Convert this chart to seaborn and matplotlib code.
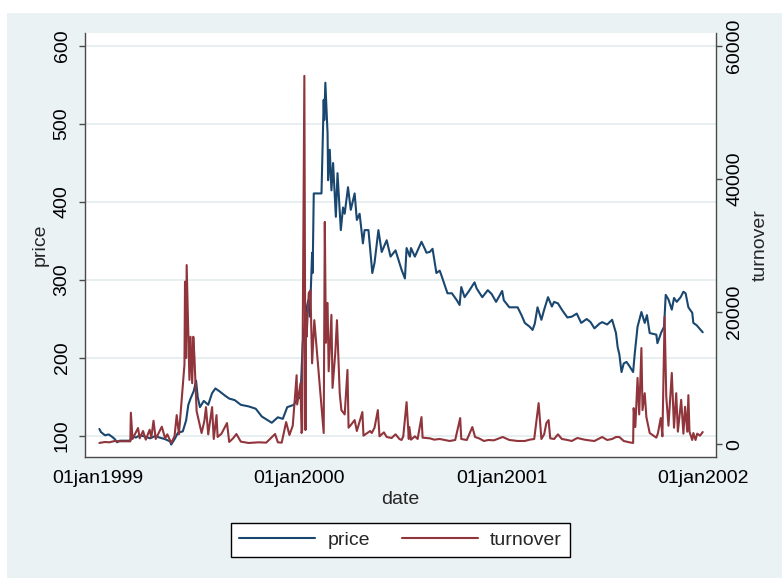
import matplotlib
matplotlib.use("Agg")
import matplotlib.pyplot as plt
from matplotlib.patches import Rectangle
import pandas as pd
import seaborn as sns

# ---- data -------------------------------------------------------------
price_dates = [
    "1999-01-04", "1999-01-07", "1999-01-14", "1999-01-21", "1999-01-27", "1999-02-01",
    "1999-02-05", "1999-02-10", "1999-02-19", "1999-03-01", "1999-03-04", "1999-03-11",
    "1999-03-18", "1999-03-29", "1999-04-06", "1999-04-15", "1999-04-23", "1999-05-03",
    "1999-05-12", "1999-05-14", "1999-05-21", "1999-05-26", "1999-06-04", "1999-06-10",
    "1999-06-14", "1999-06-18", "1999-06-24", "1999-06-28", "1999-07-01", "1999-07-05",
    "1999-07-12", "1999-07-20", "1999-07-27", "1999-08-02", "1999-08-10", "1999-08-19",
    "1999-08-27", "1999-09-06", "1999-09-17", "1999-10-01", "1999-10-14", "1999-10-25",
    "1999-11-03", "1999-11-12", "1999-11-23", "1999-12-02", "1999-12-10", "1999-12-22",
    "1999-12-27", "2000-01-03", "2000-01-07", "2000-01-13", "2000-01-17", "2000-01-20",
    "2000-01-24", "2000-01-25", "2000-01-27", "2000-02-10", "2000-02-14", "2000-02-15",
    "2000-02-17", "2000-02-21", "2000-02-22", "2000-02-25", "2000-02-28", "2000-03-02",
    "2000-03-07", "2000-03-10", "2000-03-16", "2000-03-20", "2000-03-23", "2000-03-29",
    "2000-04-03", "2000-04-10", "2000-04-14", "2000-04-19", "2000-04-25", "2000-04-28",
    "2000-05-05", "2000-05-12", "2000-05-16", "2000-05-23", "2000-05-29", "2000-06-07",
    "2000-06-14", "2000-06-23", "2000-07-04", "2000-07-10", "2000-07-13", "2000-07-19",
    "2000-07-21", "2000-07-28", "2000-08-02", "2000-08-09", "2000-08-15", "2000-08-18",
    "2000-08-24", "2000-08-29", "2000-09-05", "2000-09-11", "2000-09-15", "2000-09-25",
    "2000-10-03", "2000-10-12", "2000-10-17", "2000-10-20", "2000-10-26", "2000-11-03",
    "2000-11-13", "2000-11-17", "2000-11-27", "2000-12-07", "2000-12-14", "2000-12-22",
    "2001-01-02", "2001-01-05", "2001-01-15", "2001-01-30", "2001-02-06", "2001-02-12",
    "2001-02-21", "2001-02-26", "2001-03-02", "2001-03-07", "2001-03-14", "2001-03-19",
    "2001-03-26", "2001-04-02", "2001-04-06", "2001-04-13", "2001-04-20", "2001-04-30",
    "2001-05-08", "2001-05-17", "2001-05-25", "2001-06-04", "2001-06-11", "2001-06-18",
    "2001-06-27", "2001-07-02", "2001-07-11", "2001-07-20", "2001-07-27", "2001-07-30",
    "2001-08-02", "2001-08-06", "2001-08-10", "2001-08-15", "2001-08-20", "2001-08-27",
    "2001-08-30", "2001-09-04", "2001-09-11", "2001-09-17", "2001-09-21", "2001-09-26",
    "2001-10-08", "2001-10-10", "2001-10-17", "2001-10-22", "2001-10-25", "2001-10-30",
    "2001-11-05", "2001-11-09", "2001-11-14", "2001-11-21", "2001-11-26", "2001-11-30",
    "2001-12-05", "2001-12-12", "2001-12-14", "2001-12-20", "2001-12-31",
]
price_values = [
    109, 105, 101, 102, 99, 96,
    92, 94, 94, 94, 100, 98,
    101, 99, 97, 100, 98, 96,
    93, 89, 97, 104, 106, 120,
    140, 148, 158, 171, 150, 137,
    145, 140, 155, 161, 157, 152,
    148, 146, 140, 138, 135, 125,
    121, 117, 124, 122, 137, 140,
    146, 150, 219, 260, 274, 253,
    335, 309, 411, 411, 531, 505,
    553, 488, 428, 467, 415, 450,
    381, 437, 364, 393, 385, 419,
    390, 411, 377, 385, 347, 364,
    364, 309, 322, 364, 336, 351,
    330, 338, 313, 302, 341, 330,
    341, 330, 338, 349, 340, 335,
    336, 340, 309, 312, 304, 283,
    283, 274, 268, 291, 278, 286,
    297, 289, 278, 287, 282, 272,
    286, 274, 265, 265, 255, 245,
    240, 236, 244, 265, 249, 262,
    278, 266, 272, 270, 262, 252,
    253, 257, 245, 250, 246, 238,
    244, 246, 243, 249, 232, 214,
    205, 182, 193, 195, 190, 182,
    206, 240, 259, 245, 255, 232,
    230, 219, 233, 240, 281, 275,
    262, 277, 272, 278, 285, 283,
    265, 258, 245, 242, 233,
]

turnover_dates = [
    "1999-01-04", "1999-01-07", "1999-01-14", "1999-01-22", "1999-02-01", "1999-02-10",
    "1999-02-19", "1999-03-01", "1999-03-02", "1999-03-05", "1999-03-11", "1999-03-15",
    "1999-03-18", "1999-03-24", "1999-03-29", "1999-04-05", "1999-04-08", "1999-04-12",
    "1999-04-16", "1999-04-22", "1999-04-27", "1999-05-03", "1999-05-07", "1999-05-14",
    "1999-05-20", "1999-05-24", "1999-05-28", "1999-06-03", "1999-06-07", "1999-06-08",
    "1999-06-10", "1999-06-11", "1999-06-16", "1999-06-18", "1999-06-21", "1999-06-23",
    "1999-06-25", "1999-06-29", "1999-07-08", "1999-07-13", "1999-07-16", "1999-07-20",
    "1999-07-27", "1999-07-30", "1999-08-04", "1999-08-06", "1999-08-13", "1999-08-23",
    "1999-08-27", "1999-09-03", "1999-09-09", "1999-09-17", "1999-10-01", "1999-10-19",
    "1999-11-02", "1999-11-18", "1999-11-23", "1999-11-30", "1999-12-08", "1999-12-14",
    "1999-12-20", "1999-12-27", "1999-12-28", "2000-01-03", "2000-01-05", "2000-01-06",
    "2000-01-10", "2000-01-12", "2000-01-13", "2000-01-14", "2000-01-18", "2000-01-21",
    "2000-01-24", "2000-01-28", "2000-02-14", "2000-02-16", "2000-02-18", "2000-02-21",
    "2000-02-23", "2000-02-28", "2000-03-01", "2000-03-06", "2000-03-09", "2000-03-14",
    "2000-03-17", "2000-03-23", "2000-03-28", "2000-03-30", "2000-04-04", "2000-04-10",
    "2000-04-14", "2000-04-24", "2000-04-26", "2000-05-08", "2000-05-11", "2000-05-16",
    "2000-05-22", "2000-05-25", "2000-06-02", "2000-06-07", "2000-06-16", "2000-06-23",
    "2000-06-30", "2000-07-04", "2000-07-07", "2000-07-13", "2000-07-17", "2000-07-18",
    "2000-07-21", "2000-07-28", "2000-08-02", "2000-08-09", "2000-08-11", "2000-08-24",
    "2000-09-01", "2000-09-11", "2000-09-20", "2000-09-29", "2000-10-09", "2000-10-18",
    "2000-10-20", "2000-10-30", "2000-11-09", "2000-11-14", "2000-11-21", "2000-11-30",
    "2000-12-08", "2000-12-18", "2001-01-03", "2001-01-15", "2001-01-30", "2001-02-12",
    "2001-02-21", "2001-03-01", "2001-03-09", "2001-03-14", "2001-03-19", "2001-03-23",
    "2001-03-27", "2001-03-30", "2001-04-06", "2001-04-13", "2001-04-20", "2001-04-30",
    "2001-05-08", "2001-05-18", "2001-05-31", "2001-06-08", "2001-06-18", "2001-07-02",
    "2001-07-11", "2001-07-20", "2001-07-27", "2001-08-02", "2001-08-10", "2001-08-20",
    "2001-08-27", "2001-08-28", "2001-08-31", "2001-09-04", "2001-09-07", "2001-09-11",
    "2001-09-13", "2001-09-17", "2001-09-20", "2001-09-26", "2001-10-08", "2001-10-11",
    "2001-10-16", "2001-10-19", "2001-10-23", "2001-10-26", "2001-10-30", "2001-11-05",
    "2001-11-09", "2001-11-13", "2001-11-16", "2001-11-22", "2001-11-26", "2001-11-29",
    "2001-12-03", "2001-12-05", "2001-12-07", "2001-12-12", "2001-12-14", "2001-12-18",
    "2001-12-21", "2001-12-26", "2001-12-31",
]
turnover_values = [
    200, 250, 350, 300, 500, 450,
    450, 450, 4760, 800, 1800, 2450,
    900, 2000, 700, 2200, 1000, 3550,
    800, 1800, 2650, 900, 1500, 200,
    1200, 4400, 1500, 7700, 12000, 24500,
    13000, 27000, 9700, 16200, 9200, 16200,
    13200, 5000, 1700, 3500, 5600, 1500,
    5600, 800, 4400, 1100, 1600, 3200,
    350, 900, 1550, 400, 200, 300,
    250, 1550, 300, 250, 3350, 1400,
    2800, 10400, 6000, 9200, 1700, 2150,
    55500, 2150, 19800, 16200, 22800, 23200,
    12200, 18700, 1700, 33500, 15300, 21300,
    11000, 19500, 8500, 13800, 18700, 7700,
    5150, 4500, 11200, 2500, 3000, 3650,
    2000, 4850, 1300, 2000, 1700, 2500,
    5150, 1200, 1800, 1100, 950, 1500,
    800, 650, 1200, 6350, 800, 2600,
    700, 1200, 800, 4100, 1000, 900,
    700, 800, 650, 500, 650, 3950,
    800, 650, 2600, 1100, 900, 500,
    650, 600, 1100, 650, 500, 500,
    700, 800, 6200, 800, 1500, 3200,
    3650, 900, 800, 1500, 800, 650,
    500, 950, 700, 600, 500, 1100,
    650, 800, 1100, 1100, 500, 300,
    200, 5450, 2600, 10000, 4500, 14500,
    5150, 7700, 4100, 1700, 1000, 1700,
    3950, 1200, 19200, 7150, 2800, 10750,
    2500, 7700, 1900, 6700, 1600, 5650,
    1900, 7400, 1900, 650, 1700, 650,
    1600, 1300, 1850,
]

x_tick_dates = ["1999-01-01", "2000-01-01", "2001-01-01", "2002-01-01"]
x_tick_labels = ["01jan1999", "01jan2000", "01jan2001", "01jan2002"]
price_ticks = [100, 200, 300, 400, 500, 600]
turnover_ticks = [0, 20000, 40000, 60000]

# ---- style ------------------------------------------------------------
sns.set_style("white")
plt.rcParams["font.family"] = ["Liberation Sans", "DejaVu Sans"]

BG = "#EAF2F3"
GRID = "#E6EEF0"
AXCOL = "#4A4A4A"
NAVY = "#1A476F"
MAROON = "#90353B"
FS = 14

W, H = 782, 578
fig = plt.figure(figsize=(W / 100, H / 100), dpi=100, facecolor="white")
fig.patches.append(Rectangle((7 / W, 0), 1 - 7 / W, 1 - 13 / H,
                             transform=fig.transFigure, facecolor=BG,
                             edgecolor="none", zorder=-10))

ax = fig.add_axes([85 / W, 1 - 457 / H, 631 / W, 424 / H])
ax.set_facecolor("white")

price_df = pd.DataFrame({"date": pd.to_datetime(price_dates), "price": price_values})
turn_df = pd.DataFrame({"date": pd.to_datetime(turnover_dates), "turnover": turnover_values})

sns.lineplot(data=price_df, x="date", y="price", ax=ax, color=NAVY,
             linewidth=1.5, label="price", legend=False)

ax2 = ax.twinx()
sns.lineplot(data=turn_df, x="date", y="turnover", ax=ax2, color=MAROON,
             linewidth=1.5, label="turnover", legend=False)

# axes ranges
ax.set_xlim(pd.Timestamp("1998-12-09"), pd.Timestamp("2002-01-24"))
ax.set_ylim(73.1, 616.7)
ax2.set_ylim(-1913, 61958)

# grid
ax.set_yticks(price_ticks)
ax.yaxis.grid(True, color=GRID, linewidth=1.3)
ax.xaxis.grid(False)
ax.set_axisbelow(True)

# ticks and labels
ax.set_xticks(pd.to_datetime(x_tick_dates))
ax.set_xticklabels(x_tick_labels, fontsize=FS)
ax.set_yticklabels([str(t) for t in price_ticks], fontsize=FS,
                   rotation=90, va="center")
ax2.set_yticks(turnover_ticks)
ax2.set_yticklabels([str(t) for t in turnover_ticks], fontsize=FS,
                    rotation=90, va="center")

for a in (ax, ax2):
    a.tick_params(axis="both", direction="out", length=4.3, width=1.0,
                  color=AXCOL, labelcolor="black")
ax.tick_params(axis="y", pad=6)
ax.tick_params(axis="x", pad=5)
ax2.tick_params(axis="y", pad=3)

for s in ("top", "right"):
    ax.spines[s].set_visible(False)
for s in ("top", "left", "bottom"):
    ax2.spines[s].set_visible(False)
for sp in (ax.spines["left"], ax.spines["bottom"], ax2.spines["right"]):
    sp.set_color(AXCOL)
    sp.set_linewidth(1.0)

ax.set_xlabel("date", fontsize=FS)
ax.set_ylabel("price", fontsize=FS)
ax2.set_ylabel("turnover", fontsize=FS, rotation=90)
ax.yaxis.set_label_coords((49 - 85) / 631, 0.5)
ax2.yaxis.set_label_coords((752 - 85) / 631, 0.5)
ax.xaxis.set_label_coords(0.5, -(491 - 457) / 424)

# legend
handles = [ax.get_lines()[0], ax2.get_lines()[0]]
leg = fig.legend(handles, ["price", "turnover"], loc="center",
                 bbox_to_anchor=(400.5 / W, 1 - 540 / H), ncol=2,
                 fontsize=FS, frameon=True, fancybox=False,
                 handlelength=3.9, handletextpad=0.62, columnspacing=1.65,
                 borderpad=0.42)
leg.get_frame().set_edgecolor("black")
leg.get_frame().set_linewidth(1.0)
leg.get_frame().set_facecolor("white")
leg.get_frame().set_alpha(1)

fig.savefig("out.png", dpi=100, facecolor="white")
